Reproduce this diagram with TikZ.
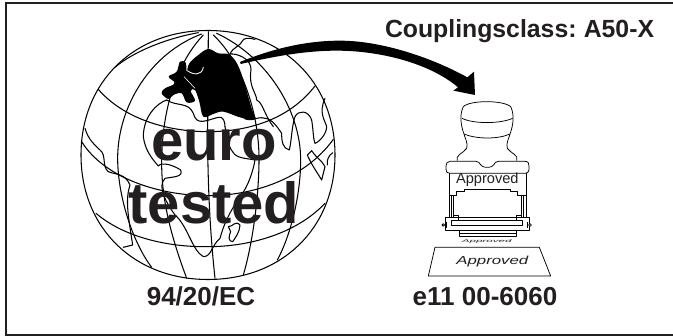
\documentclass[tikz,border=0pt]{standalone}
\usepackage{fontspec}
\setmainfont{Liberation Sans}
\definecolor{ink}{HTML}{231F20}
\tikzset{
  gl/.style={line width=1.05pt,line cap=round,line join=round,draw=black},
  st/.style={line width=.75pt,line join=round,draw=black},
  lbl/.style={anchor=base,inner sep=0pt,outer sep=0pt,text=ink,font=\bfseries\fontsize{26}{26}\selectfont},
  big/.style={anchor=base,inner sep=0pt,outer sep=0pt,text=ink,font=\bfseries\fontsize{58}{58}\selectfont},
  z1/.style={shift={(60,30)},x=.33333pt,y=-.33333pt},
  z2/.style={shift={(400,60)},x=.33333pt,y=-.33333pt},
  z3/.style={shift={(230,0)},x=.33333pt,y=-.33333pt}
}
\begin{document}
\begin{tikzpicture}[x=1pt,y=-1pt]
\useasboundingbox (0,0) rectangle (673,336);
\fill[white] (0,0) rectangle (673,336);
\draw[line width=2.3pt,draw=ink] (673,3) -- (6,3) -- (6,335) -- (673,335);
% globe
\draw[gl] (81,155) .. controls (81,82.2) and (133.7,30.5) .. (208,30.5) .. controls (282.3,30.5) and (335,82.2) .. (335,155) .. controls (335,227.8) and (282.3,279.5) .. (208,279.5) .. controls (133.7,279.5) and (81,227.8) .. (81,155) -- cycle;
\begin{scope}[z1]
 % meridians
 \draw[gl] (445,5) -- (443,300) .. controls (443,400) and (445,560) .. (465,745);
 \draw[gl] (430,15) .. controls (340,110) and (305,260) .. (305,400) .. controls (305,530) and (345,650) .. (380,745);
 \draw[gl] (425,12) .. controls (270,70) and (175,230) .. (173,380) .. controls (172,500) and (220,640) .. (275,712);
 \draw[gl] (415,8) .. controls (320,25) and (220,65) .. (165,112);
 \draw[gl] (460,15) .. controls (550,100) and (600,260) .. (597,400) .. controls (595,520) and (575,650) .. (550,735);
 \draw[gl] (470,10) .. controls (620,80) and (722,240) .. (722,390) .. controls (722,500) and (690,620) .. (652,690);
 % parallels
 \draw[gl] (115,178) .. controls (190,265) and (320,305) .. (445,305) .. controls (570,305) and (690,265) .. (765,168);
 \draw[gl] (65,335) .. controls (130,440) and (290,497) .. (445,497) .. controls (590,497) and (740,440) .. (820,328);
 \draw[gl] (108,550) .. controls (190,620) and (320,652) .. (445,650) .. controls (570,650) and (710,610) .. (795,520);
 % continents
 \draw[gl] (75,295) .. controls (85,330) and (105,345) .. (120,360) .. controls (140,375) and (125,410) .. (145,425) .. controls (170,435) and (195,430) .. (210,465) .. controls (195,510) and (205,560) .. (218,645) -- (190,652);
 \draw[gl] (320,210) .. controls (290,220) and (250,260) .. (250,320) .. controls (255,360) and (275,385) .. (295,408) .. controls (305,395) and (340,405) .. (362,420) .. controls (370,440) and (345,440) .. (315,445) .. controls (290,470) and (320,520) .. (345,555) .. controls (385,590) and (395,660) .. (430,680) .. controls (455,680) and (455,645) .. (480,625) .. controls (490,590) and (500,560) .. (540,500) .. controls (565,470) and (580,420) .. (585,390) .. controls (560,385) and (530,385) .. (520,368) .. controls (500,345) and (500,310) .. (495,290);
 \draw[gl] (320,210) .. controls (350,230) and (385,215) .. (400,250) .. controls (410,290) and (440,270) .. (475,262) .. controls (490,258) and (495,275) .. (495,290);
 \draw[gl] (540,248) .. controls (560,290) and (590,255) .. (615,265) .. controls (635,265) and (655,295) .. (665,310) .. controls (665,335) and (668,355) .. (688,360) .. controls (695,330) and (695,290) .. (705,260) .. controls (715,240) and (745,240) .. (755,270) .. controls (760,300) and (760,330) .. (765,340) .. controls (780,335) and (800,310) .. (800,290) .. controls (795,270) and (775,250) .. (795,205);
 \draw[gl] (585,28) .. controls (565,22) and (550,25) .. (548,32) .. controls (540,50) and (520,50) .. (510,72) .. controls (530,70) and (575,85) .. (573,120) .. controls (565,170) and (590,190) .. (590,210) .. controls (610,220) and (610,250) .. (640,290);
 \draw[gl] (505,590) .. controls (520,590) and (525,570) .. (540,585) .. controls (540,605) and (525,625) .. (518,635) .. controls (505,635) and (505,620) .. (512,605) -- cycle;
 \draw[gl] (742,375) -- (755,362) .. controls (770,385) and (785,390) .. (795,410) -- (785,450) .. controls (770,425) and (755,405) .. (742,375) -- cycle;
 \draw[gl] (802,405) .. controls (800,390) and (805,378) .. (818,368);
 % black blob
 \fill[black] plot[smooth cycle,tension=.6] coordinates {
  (445,57) (475,70) (510,75) (540,120) (575,235) (585,268) (540,262) (490,245) (460,252) (430,260) (418,215) (405,180)
  (392,183) (405,212) (380,217) (365,190) (340,195) (325,207) (305,190) (315,175) (345,160) (326,140) (350,125) (360,95) (377,98) (380,125) (388,100) (415,75)};
 \draw[white,line width=.85pt,line cap=round] (382,122) .. controls (400,135) and (425,138) .. (430,112);
 \draw[white,line width=.55pt,line cap=round] (372,140) -- (405,175);
\end{scope}
% arrow
\begin{scope}[z3]
 \fill[black] (30,186) .. controls (130,145) and (230,122) .. (330,122) .. controls (450,122) and (600,170) .. (712,232)
   -- (732,215) -- (735,285) -- (670,272) -- (684,262) .. controls (600,190) and (450,152) .. (320,152) .. controls (220,152) and (120,172) .. (32,192) -- cycle;
\end{scope}
% stamp
\begin{scope}[z2]
 \draw[st] (172,302) .. controls (165,285) and (190,280) .. (200,265) .. controls (205,250) and (195,235) .. (192,222) .. controls (180,190) and (180,160) .. (190,140) .. controls (210,120) and (310,120) .. (332,140) .. controls (342,160) and (342,190) .. (330,222) .. controls (327,235) and (317,250) .. (322,265) .. controls (332,280) and (358,285) .. (350,302);
 \draw[st] (186,175) .. controls (220,192) and (300,192) .. (338,175);
 \draw[st] (192,222) .. controls (230,238) and (295,238) .. (330,222);
 \draw[st,fill=white] (150,304) -- (228,304) .. controls (245,305) and (235,322) .. (262,322) .. controls (288,322) and (278,305) .. (295,304) -- (375,304) .. controls (385,304) and (387,310) .. (387,318) -- (387,330) .. controls (387,338) and (380,340) .. (375,340) -- (150,340) .. controls (142,340) and (138,336) .. (138,328) -- (138,318) .. controls (138,310) and (142,304) .. (150,304) -- cycle;
 \draw[st] (147,340) -- (147,470) (378,340) -- (378,470) (155,405) -- (155,470) (370,405) -- (370,470) (160,405) -- (160,470) (365,405) -- (365,470);
 \draw[st] (147,405) -- (170,405) -- (170,393) -- (193,393) -- (193,388) -- (332,388) -- (332,393) -- (352,393) -- (352,405) -- (378,405);
 \draw[st] (160,445) -- (160,465) -- (175,465) -- (175,480) (365,445) -- (365,465) -- (350,465) -- (350,480);
 \draw[st] (135,472) rectangle (388,510);
 \draw[st] (155,480) rectangle (368,497);
 \draw[st] (178,510) -- (178,530) -- (350,530) -- (350,510) (178,520) -- (350,520);
 \draw[st,fill=white] (130,495) circle (4) (390,495) circle (4);
 \draw[st] (140,485) -- (140,505) (383,485) -- (383,505);
 \draw[st] (105,562) -- (418,562) -- (452,648) -- (85,648) -- cycle;
 \node[anchor=base,inner sep=0pt,font=\fontsize{14.6}{15}\selectfont,text=ink] (appr1) at (262,372) {Approved};
 \node[anchor=base,inner sep=0pt,font=\itshape\fontsize{4}{4}\selectfont,xscale=2.9,text=ink] (appr2) at (260,549) {Approved};
 \node[anchor=base,inner sep=0pt,font=\itshape\fontsize{11.6}{12}\selectfont,xscale=1.45,text=ink] (appr3) at (277,614) {Approved};
\end{scope}
% text
\node[big] (euro) at (214,160.7) {euro};
\node[big] (tested) at (214,224) {tested};
\node[lbl] (dir) at (201,305.7) {94/20/EC};
\node[lbl] (eno) at (485,306) {e11 00-6060};
\node[lbl,anchor=base west,font=\bfseries\fontsize{24.8}{25}\selectfont] (cls) at (385,38) {\spaceskip=.2em\relax Couplingsclass: A50-X};
\end{tikzpicture}
\end{document}
